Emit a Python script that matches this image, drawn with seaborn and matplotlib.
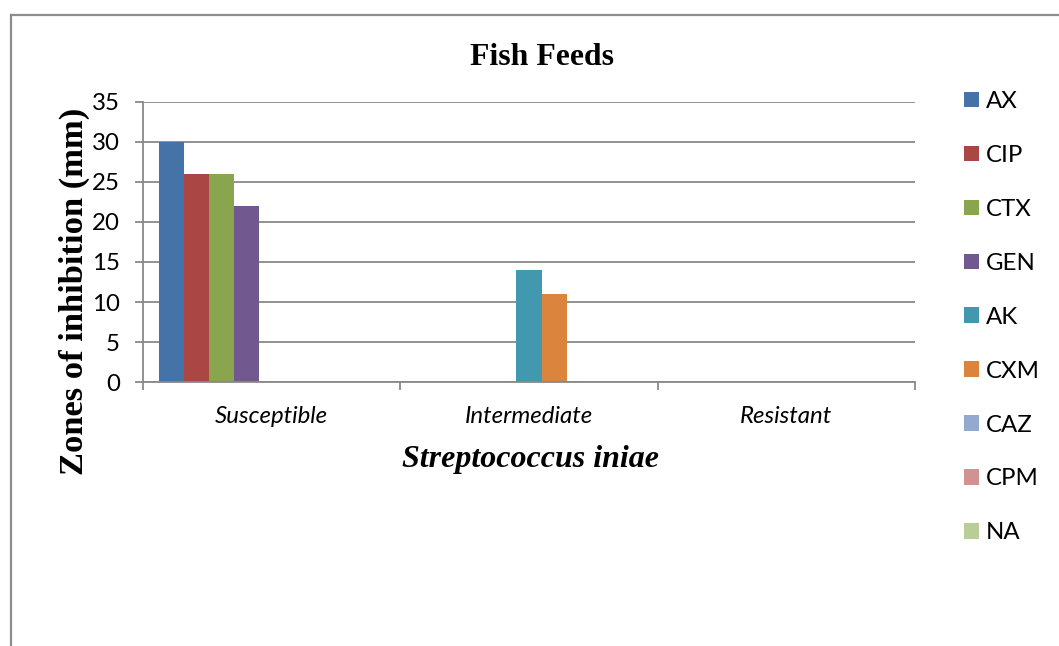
import numpy as np
import pandas as pd
import matplotlib
matplotlib.use("Agg")
import matplotlib.pyplot as plt
import seaborn as sns
from matplotlib.lines import Line2D
from matplotlib.font_manager import FontProperties

# ---- data ----
categories = ["Susceptible", "Intermediate", "Resistant"]
series = ["AX", "CIP", "CTX", "GEN", "AK", "CXM", "CAZ", "CPM", "NA"]
AX = [30, 0, 0]
CIP = [26, 0, 0]
CTX = [26, 0, 0]
GEN = [22, 0, 0]
AK = [0, 14, 0]
CXM = [0, 11, 0]
CAZ = [0, 0, 0]
CPM = [0, 0, 0]
NA = [0, 0, 0]
values = [AX, CIP, CTX, GEN, AK, CXM, CAZ, CPM, NA]
yticks = [0, 5, 10, 15, 20, 25, 30, 35]
colors = ["#4572A7", "#AA4643", "#89A54E", "#71588F", "#4198AF",
          "#DB843D", "#93A9CF", "#D19392", "#B9CD96"]

rows = []
for s, vals in zip(series, values):
    for c, v in zip(categories, vals):
        rows.append({"category": c, "series": s, "value": v})
df = pd.DataFrame(rows)

W, H = 1059, 646
fig = plt.figure(figsize=(W / 100, H / 100), dpi=100)
ax = fig.add_axes([143 / W, 1 - 382 / H, (915 - 143) / W, (382 - 102) / H])

sns.barplot(data=df, x="category", y="value", hue="series", order=categories,
            hue_order=series, palette=colors, saturation=1, width=0.875,
            errorbar=None, linewidth=0, ax=ax)

grid_c = "#898989"
ax.set_xlim(-0.5, 2.5)
ax.set_ylim(0, 35)
ax.set_yticks(yticks)
ax.yaxis.grid(True, color=grid_c, lw=1.3)
ax.set_axisbelow(True)
for sp in ["top", "right"]:
    ax.spines[sp].set_visible(False)
for sp in ["left", "bottom"]:
    ax.spines[sp].set_color(grid_c)
    ax.spines[sp].set_linewidth(1.3)

tick_font = "Lato"
fs = 17.3
ax.tick_params(axis="y", length=5.8, width=1.3, color=grid_c, pad=11,
               labelsize=fs)
for t in ax.get_yticklabels():
    t.set_fontfamily(tick_font)
ax.set_xticks([-0.5, 0.5, 1.5, 2.5], minor=True)
ax.tick_params(axis="x", which="minor", length=5.8, width=1.3, color=grid_c)
ax.tick_params(axis="x", which="major", length=0, pad=17, labelsize=fs)
ax.set_xticks(range(len(categories)))
ax.set_xticklabels(categories, fontfamily=tick_font, fontstyle="italic",
                   fontsize=fs)
ax.set_xlabel("")
ax.set_ylabel("")

# titles
fig.text(541.5 / W, 1 - 65 / H, "Fish Feeds", ha="center", va="baseline",
         fontfamily="Liberation Serif", fontweight="bold", fontsize=22.9)
fig.text(74 / W, 1 - 291 / H, "Zones of inhibition (mm)", rotation=90,
         ha="center", va="center", fontfamily="Liberation Serif",
         fontweight="bold", fontsize=24.8)
fig.text(531 / W, 1 - 459 / H, "Streptococcus iniae", ha="center", va="center",
         fontfamily="Liberation Serif", fontweight="bold", fontstyle="italic",
         fontsize=23)

# legend
handles, labels = ax.get_legend_handles_labels()
if ax.legend_ is not None:
    ax.legend_.remove()
fig.legend(handles, labels, loc="upper left",
           bbox_to_anchor=(964 / W, 1 - 91 / H), frameon=False,
           borderpad=0, borderaxespad=0, handlelength=0.62, handleheight=0.62,
           handletextpad=0.3, labelspacing=1.37,
           prop=FontProperties(family=tick_font, size=fs))

# outer frame
fc = "#8c8c8c"
fig.add_artist(Line2D([10.5 / W, 10.5 / W], [0, 1 - 14.5 / H],
                      transform=fig.transFigure, color=fc, lw=1.6))
fig.add_artist(Line2D([10.5 / W, 1], [1 - 14.5 / H, 1 - 14.5 / H],
                      transform=fig.transFigure, color=fc, lw=1.6))

fig.savefig("out.png", dpi=100)
